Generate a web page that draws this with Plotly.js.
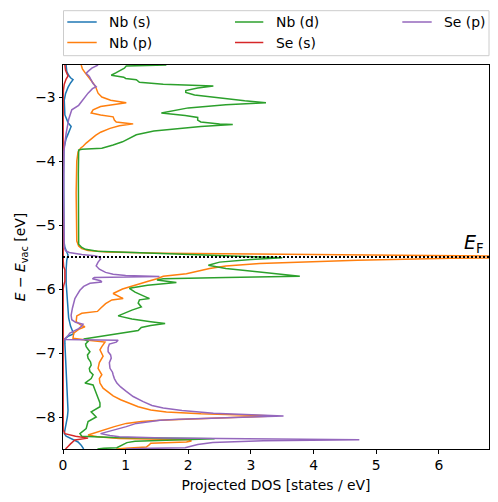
<!DOCTYPE html>
<html>
<head>
<meta charset="utf-8">
<script src="https://cdn.plot.ly/plotly-3.0.1.min.js"></script>
<style>html,body{margin:0;padding:0;background:#fff;}#chart{width:498px;height:502px;}</style>
</head>
<body>
<div id="chart"></div>
<script>
// ---- data (energy in eV, projected DOS in states/eV) ----
const seriesNames = ["Nb (s)", "Nb (p)", "Nb (d)", "Se (s)", "Se (p)"];
const fermiLevel = -5.5;
const xTickVals = [0, 1, 2, 3, 4, 5, 6];
const yTickVals = [-8, -7, -6, -5, -4, -3];

const nbS_E = [-2.5,-2.6,-2.66,-2.7,-2.73,-2.78,-2.85,-2.95,-3.05,-3.2,-3.28,-3.35,-3.4,-3.46,-3.52,-3.58,-3.65,-3.72,-3.8,-4.2,-4.8,-5.25,-5.35,-5.42,-5.47,-5.55,-5.7,-5.9,-6.2,-6.45,-6.58,-6.66,-6.7,-6.74,-6.78,-6.85,-7.2,-7.6,-7.9,-8.0,-8.15,-8.26,-8.3,-8.33,-8.36,-8.39,-8.44,-8.5];
const nbS_dos = [0.05,0.06,0.09,0.12,0.16,0.12,0.08,0.04,0.02,0.02,0.03,0.06,0.08,0.13,0.11,0.08,0.05,0.03,0.015,0.01,0.01,0.015,0.03,0.06,0.08,0.06,0.05,0.05,0.07,0.09,0.12,0.15,0.17,0.08,0.03,0.03,0.05,0.07,0.08,0.07,0.04,0.02,0.05,0.11,0.19,0.24,0.29,0.33];

const nbP_E = [-2.5,-2.56,-2.63,-2.71,-2.78,-2.84,-2.9,-2.94,-3.0,-3.05,-3.09,-3.11,-3.15,-3.2,-3.25,-3.28,-3.31,-3.36,-3.39,-3.42,-3.45,-3.49,-3.55,-3.6,-3.66,-3.72,-3.77,-3.8,-3.86,-4.0,-4.5,-5.0,-5.25,-5.33,-5.37,-5.4,-5.42,-5.44,-5.455,-5.47,-5.49,-5.5,-5.52,-5.55,-5.6,-5.64,-5.68,-5.73,-5.76,-5.8,-5.84,-5.88,-5.94,-6.0,-6.07,-6.12,-6.15,-6.17,-6.23,-6.3,-6.35,-6.38,-6.42,-6.51,-6.56,-6.59,-6.63,-6.69,-6.77,-6.8,-6.83,-6.9,-6.95,-7.05,-7.15,-7.24,-7.3,-7.34,-7.4,-7.47,-7.55,-7.6,-7.67,-7.73,-7.79,-7.84,-7.89,-7.92,-7.95,-7.97,-7.985,-8.0,-8.02,-8.035,-8.05,-8.07,-8.1,-8.15,-8.18,-8.23,-8.28,-8.31,-8.335,-8.355,-8.375,-8.39,-8.41,-8.44,-8.47,-8.49,-8.5];
const nbP_dos = [0.29,0.31,0.36,0.43,0.48,0.52,0.54,0.56,0.62,0.76,1.01,0.85,0.6,0.48,0.45,0.6,0.8,0.82,0.85,1.12,0.9,0.75,0.6,0.52,0.44,0.37,0.32,0.28,0.24,0.22,0.21,0.21,0.22,0.25,0.3,0.4,0.7,1.6,3.2,5.2,7.5,8.5,6.2,4.7,3.14,2.6,2.34,2.1,1.97,1.6,1.5,1.36,1.17,0.95,0.8,0.9,0.96,0.78,0.68,0.6,0.55,0.3,0.22,0.21,0.28,0.35,0.25,0.17,0.16,0.4,0.67,0.62,0.59,0.64,0.58,0.56,0.6,0.62,0.58,0.59,0.64,0.7,0.8,0.92,1.06,1.2,1.4,1.65,2.2,2.9,3.4,2.9,2.23,1.8,1.54,1.25,1.01,0.82,0.72,0.59,0.4,0.55,0.9,2.0,2.05,1.97,1.4,1.37,1.33,1.0,0.85];

const nbD_E = [-2.5,-2.505,-2.515,-2.55,-2.58,-2.62,-2.66,-2.69,-2.71,-2.73,-2.77,-2.8,-2.83,-2.86,-2.9,-2.93,-2.97,-3.02,-3.06,-3.09,-3.12,-3.17,-3.22,-3.25,-3.29,-3.32,-3.36,-3.39,-3.42,-3.43,-3.46,-3.5,-3.53,-3.59,-3.65,-3.7,-3.75,-3.78,-3.8,-3.815,-3.83,-4.2,-5.0,-5.3,-5.35,-5.38,-5.41,-5.43,-5.45,-5.48,-5.51,-5.54,-5.58,-5.63,-5.68,-5.73,-5.77,-5.8,-5.82,-5.84,-5.86,-5.9,-5.94,-5.99,-6.05,-6.12,-6.15,-6.17,-6.22,-6.28,-6.33,-6.42,-6.47,-6.51,-6.54,-6.57,-6.6,-6.65,-6.7,-6.74,-6.78,-6.82,-6.86,-6.9,-6.98,-7.03,-7.08,-7.14,-7.19,-7.24,-7.29,-7.34,-7.4,-7.47,-7.5,-7.6,-7.7,-7.78,-7.84,-7.92,-8.0,-8.07,-8.18,-8.26,-8.3,-8.32,-8.34,-8.36,-8.38,-8.4,-8.43,-8.46,-8.48,-8.49,-8.5];
const nbD_dos = [1.65,1.3,1.01,0.98,0.93,0.85,0.77,0.97,1.0,1.17,1.22,1.6,2.4,2.15,1.96,1.96,2.1,2.5,2.9,3.24,2.6,2.0,1.7,1.57,1.95,2.15,2.15,2.2,2.5,2.71,2.2,1.7,1.45,1.17,1.05,0.95,0.8,0.69,0.62,0.3,0.25,0.245,0.24,0.25,0.3,0.36,0.55,1.2,1.9,2.7,3.5,3.0,2.5,2.32,2.6,3.1,3.5,3.78,2.6,1.6,1.5,1.81,1.35,1.06,1.15,1.3,1.38,1.22,1.2,1.25,1.1,0.88,1.1,1.4,1.63,1.4,1.25,1.2,0.85,0.55,0.33,0.4,0.36,0.37,0.43,0.39,0.4,0.44,0.45,0.42,0.43,0.48,0.45,0.35,0.48,0.52,0.56,0.59,0.59,0.45,0.53,0.4,0.37,0.27,0.3,0.8,2.42,1.6,1.15,1.02,0.95,0.9,0.86,0.65,0.55];

const seS_E = [-2.5,-2.58,-2.63,-2.67,-2.72,-2.8,-2.9,-3.0,-5.55,-5.65,-5.7,-5.8,-5.88,-5.95,-6.0,-8.2,-8.26,-8.3,-8.33,-8.36,-8.39,-8.42,-8.46,-8.5];
const seS_dos = [0.03,0.04,0.06,0.08,0.05,0.02,0.006,0.003,0.003,0.01,0.03,0.035,0.03,0.01,0.003,0.003,0.03,0.2,0.4,0.19,0.15,0.12,0.08,0.04];

const seP_E = [-2.5,-2.55,-2.6,-2.63,-2.68,-2.73,-2.79,-2.84,-2.87,-2.94,-3.0,-3.07,-3.13,-3.2,-3.28,-3.35,-3.41,-3.5,-3.57,-3.72,-3.85,-4.5,-5.2,-5.35,-5.4,-5.43,-5.46,-5.48,-5.5,-5.53,-5.58,-5.64,-5.69,-5.74,-5.77,-5.79,-5.805,-5.82,-5.84,-5.87,-5.89,-5.91,-5.96,-6.02,-6.1,-6.15,-6.3,-6.41,-6.48,-6.52,-6.55,-6.58,-6.62,-6.69,-6.74,-6.79,-6.8,-6.83,-6.86,-6.92,-6.98,-7.03,-7.08,-7.15,-7.24,-7.3,-7.34,-7.4,-7.47,-7.53,-7.6,-7.68,-7.76,-7.82,-7.86,-7.9,-7.94,-7.965,-7.985,-8.0,-8.02,-8.035,-8.05,-8.08,-8.1,-8.15,-8.18,-8.23,-8.26,-8.29,-8.31,-8.33,-8.355,-8.37,-8.39,-8.4,-8.43,-8.46,-8.48,-8.49,-8.5];
const seP_dos = [0.56,0.46,0.4,0.37,0.42,0.45,0.48,0.53,0.47,0.4,0.35,0.29,0.25,0.14,0.11,0.09,0.08,0.06,0.05,0.03,0.015,0.01,0.01,0.02,0.04,0.1,0.3,0.5,0.58,0.6,0.56,0.53,0.58,0.68,0.8,1.0,1.54,0.5,0.47,0.6,0.62,0.43,0.33,0.27,0.22,0.19,0.15,0.13,0.14,0.2,0.32,0.3,0.25,0.11,0.07,0.02,0.88,0.85,0.74,0.72,0.72,0.76,0.77,0.74,0.75,0.79,0.8,0.82,0.86,0.92,1.01,1.12,1.28,1.42,1.6,1.9,2.4,3.0,3.52,3.0,2.23,1.85,1.55,1.3,1.17,1.01,0.9,0.75,0.6,0.75,0.9,1.6,4.73,3.2,2.6,2.39,2.15,2.02,1.95,1.4,1.0];

// ---- styles ----
const colors = ["#1f77b4", "#ff7f0e", "#2ca02c", "#d62728", "#9467bd"];
// legend slots (column, row) in matplotlib 3-column layout
const legendCol = [0, 0, 1, 1, 2];
const legendRow = [0, 1, 0, 1, 0];
const energies = [nbS_E, nbP_E, nbD_E, seS_E, seP_E];
const dosValues = [nbS_dos, nbP_dos, nbD_dos, seS_dos, seP_dos];
const FONT = "DejaVu Sans, sans-serif";

const traces = seriesNames.map((name, i) => ({
  type: "scatter", mode: "lines", name: name,
  x: dosValues[i], y: energies[i],
  line: {color: colors[i], width: 1.5},
  showlegend: false, hoverinfo: "skip"
}));

const axisCommon = {
  showgrid: false, zeroline: false, showline: true, mirror: true,
  linecolor: "#000", linewidth: 1, ticks: "outside", ticklen: 3.5, tickwidth: 1,
  tickcolor: "#000", tickfont: {family: FONT, size: 13.9, color: "#000"},
  automargin: false
};

// manual legend (paper coordinates of the plot area: 426 x 384 px)
const PW = 426, PH = 384;
const colLineX0 = [67.3, 235, 402.3].map(v => (v - 63) / PW);
const colLineX1 = [96.7, 263.3, 431.7].map(v => (v - 63) / PW);
const colTextX = [107.3, 274.3, 442.3].map(v => (v - 63) / PW);
const rowY = [22, 42.5].map(v => (449 - v) / PH);
const box = {x0: (63.5 - 63) / PW, x1: (489 - 63) / PW, y0: (449 - 55.7) / PH, y1: (449 - 10.7) / PH};

const shapes = [{
  type: "line", xref: "paper", x0: 0, x1: 1, yref: "y", y0: fermiLevel, y1: fermiLevel,
  line: {color: "#000", width: 2, dash: "2px,2px"}, layer: "above"
}, {
  type: "rect", xref: "paper", yref: "paper", x0: box.x0, x1: box.x1, y0: box.y0, y1: box.y1,
  line: {color: "#cccccc", width: 1}, fillcolor: "rgba(255,255,255,0.8)", layer: "above"
}];
const annotations = [{
  xref: "x", yref: "y", x: 6.8, y: fermiLevel, xanchor: "right", yanchor: "bottom",
  xshift: -3, yshift: -1, showarrow: false,
  text: "<i>E</i><sub>F</sub>", font: {family: FONT, size: 19, color: "#000"}
}];
seriesNames.forEach((name, i) => {
  const c = legendCol[i], r = legendRow[i];
  shapes.push({
    type: "line", xref: "paper", yref: "paper",
    x0: colLineX0[c], x1: colLineX1[c], y0: rowY[r], y1: rowY[r],
    line: {color: colors[i], width: 1.5}, layer: "above"
  });
  annotations.push({
    xref: "paper", yref: "paper", x: colTextX[c], y: rowY[r],
    xanchor: "left", yanchor: "middle", showarrow: false,
    text: name, font: {family: FONT, size: 13.9, color: "#000"}
  });
});

const layout = {
  width: 498, height: 502,
  margin: {l: 63, r: 9, t: 65, b: 53},
  paper_bgcolor: "#fff", plot_bgcolor: "#fff",
  font: {family: FONT, size: 13.9, color: "#000"},
  showlegend: false,
  xaxis: Object.assign({}, axisCommon, {
    range: [0, 6.8], tickvals: xTickVals, ticktext: xTickVals.map(String),
    title: {text: "Projected DOS [states / eV]", font: {family: FONT, size: 13.9, color: "#000"}, standoff: 8}
  }),
  yaxis: Object.assign({}, axisCommon, {
    range: [-8.5, -2.5], tickvals: yTickVals, ticktext: yTickVals.map(v => "\u2212" + Math.abs(v)),
    title: {text: "<i>E</i> \u2212 <i>E</i><sub>vac</sub> [eV]", font: {family: FONT, size: 13.9, color: "#000"}, standoff: 6}
  }),
  shapes: shapes,
  annotations: annotations
};

Plotly.newPlot("chart", traces, layout, {staticPlot: true, displayModeBar: false});
</script>
</body>
</html>
